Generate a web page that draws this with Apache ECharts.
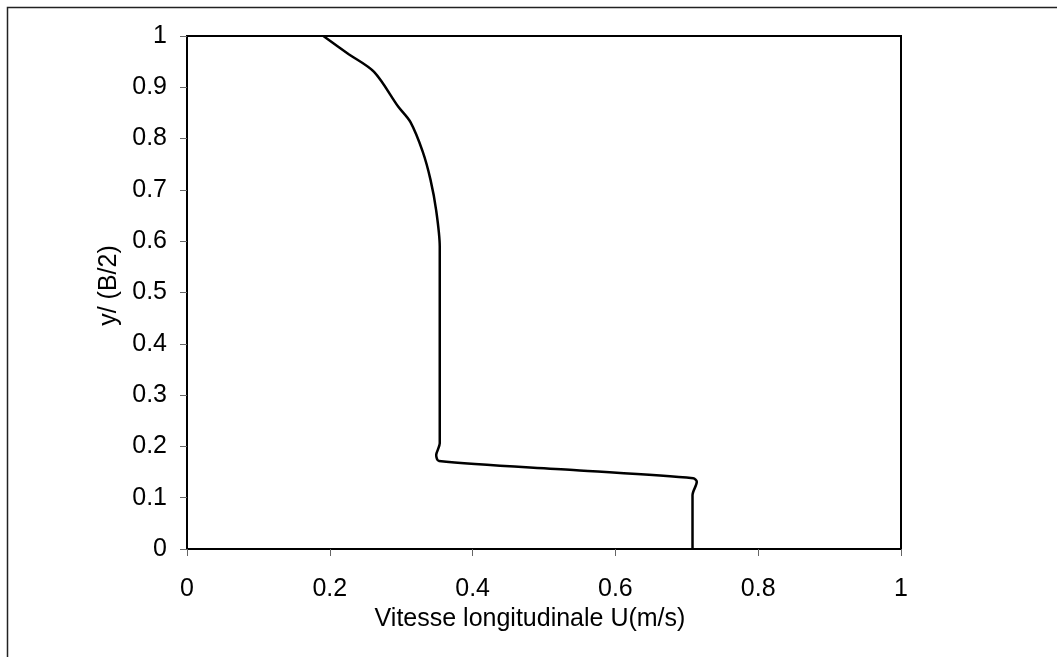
<!DOCTYPE html>
<html>
<head>
<meta charset="utf-8">
<script src="https://cdn.jsdelivr.net/npm/echarts@6/dist/echarts.min.js"></script>
<style>html,body{margin:0;padding:0;background:#fff;}#c{width:1057px;height:657px;}</style>
</head>
<body>
<div id="c"></div>
<script>
// Data
const uValues = [0.191, 0.226, 0.262, 0.296, 0.313, 0.330, 0.341, 0.349, 0.354, 0.354, 0.354, 0.349, 0.353, 0.541, 0.709, 0.714, 0.708, 0.708];
const yValues = [1.000, 0.965, 0.930, 0.862, 0.832, 0.775, 0.720, 0.660, 0.589, 0.400, 0.206, 0.183, 0.1715, 0.154, 0.138, 0.131, 0.105, 0.000];
const xTitle = 'Vitesse longitudinale U(m/s)';
const yTitle = 'y/ (B/2)';

const points = uValues.map((u, i) => [u, yValues[i]]);
const fmt = v => String(Math.round(v * 10) / 10);
const font = 'Liberation Sans, Arial, sans-serif';

const chart = echarts.init(document.getElementById('c'), null, {renderer: 'canvas'});
chart.setOption({
  animation: false,
  backgroundColor: '#fff',
  graphic: [{
    type: 'rect', left: 5, top: 5, shape: {width: 1200, height: 800},
    style: {fill: 'none', stroke: '#222', lineWidth: 1.5}, silent: true
  }],
  grid: {left: 187, top: 36, right: 156, bottom: 108, show: true, borderColor: '#000', borderWidth: 2},
  xAxis: {
    type: 'value', min: 0, max: 1, interval: 0.2,
    name: xTitle, nameLocation: 'middle', nameGap: 47,
    nameTextStyle: {fontFamily: font, fontSize: 25, color: '#000', padding: [0, 28, 0, 0]},
    axisLine: {show: true, lineStyle: {color: '#000', width: 2}},
    axisTick: {show: true, length: 7, lineStyle: {color: '#666', width: 1}},
    axisLabel: {fontFamily: font, fontSize: 25, color: '#000', margin: 28, formatter: fmt},
    splitLine: {show: false}
  },
  yAxis: {
    type: 'value', min: 0, max: 1, interval: 0.1,
    name: yTitle, nameLocation: 'middle', nameGap: 58,
    nameTextStyle: {fontFamily: font, fontSize: 25, color: '#000', padding: [0, 0, 0, 14]},
    axisLine: {show: true, lineStyle: {color: '#000', width: 2}},
    axisTick: {show: true, length: 7, lineStyle: {color: '#666', width: 1}},
    axisLabel: {fontFamily: font, fontSize: 25, color: '#000', margin: 20, formatter: fmt},
    splitLine: {show: false}
  },
  series: [{
    type: 'line', data: points, showSymbol: false, smooth: 0.3,
    lineStyle: {color: '#000', width: 2.5}
  }]
});
</script>
</body>
</html>
